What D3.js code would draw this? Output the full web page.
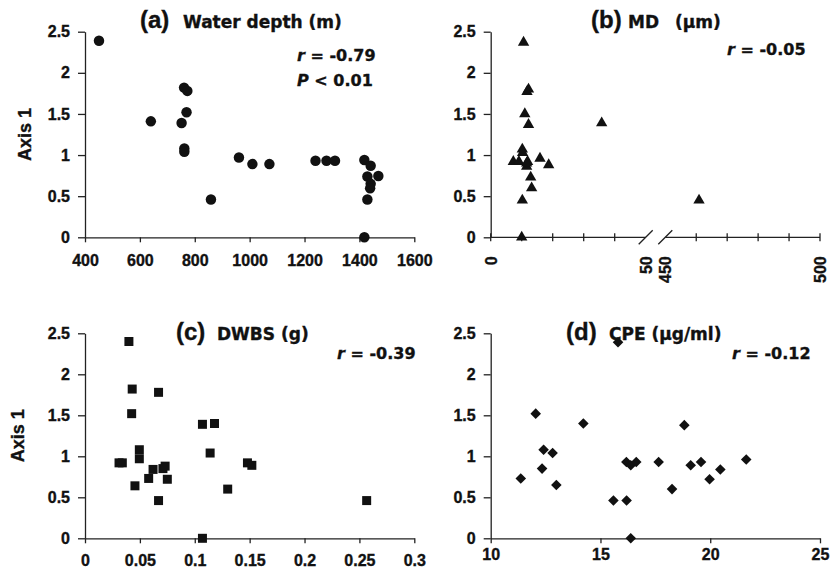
<!DOCTYPE html>
<html>
<head>
<meta charset="utf-8">
<script src="https://cdn.jsdelivr.net/npm/d3@7"></script>
<style>
  body { margin: 0; background: #fff; }
  svg text { font-family: "Liberation Sans", Arial, Helvetica, sans-serif; font-weight: bold; fill: #111;
    stroke: #111; stroke-width: 0.35px; }
</style>
</head>
<body>
<div id="canvas"></div>
<script>
// ---- data ----
const yTicks = [0, 0.5, 1, 1.5, 2, 2.5];

// (a) water depth (m) vs Axis 1
const depthX = [451, 640, 752, 761, 773, 770, 762, 762, 859, 961, 1010, 1072, 1240, 1280, 1311,
  1418, 1441, 1429, 1469, 1441, 1439, 1429, 1418];
const depthY = [2.39, 1.41, 1.39, 1.82, 1.78, 1.52, 1.08, 1.04, 0.46, 0.97, 0.89, 0.89, 0.93, 0.93, 0.93,
  0.94, 0.87, 0.74, 0.745, 0.65, 0.595, 0.46, 0.0];
const depthTicks = [400, 600, 800, 1000, 1200, 1400, 1600];

// (b) MD (um) vs Axis 1, broken x axis
const mdX = [10.6, 12.2, 11.7, 11.0, 12.2, 10.2, 10.3, 7.3, 9.1, 11.9, 11.6, 15.9, 18.7, 12.9, 13.2,
  10.2, 10.0, 11.6, 35.8, 460.9];
const mdY = [2.37, 1.80, 1.77, 1.50, 1.37, 1.07, 1.03, 0.92, 0.92, 0.92, 0.86, 0.96, 0.88, 0.73, 0.60,
  0.45, 0.0, 0.90, 1.39, 0.45];
const mdTicks = [0, 10, 20, 30, 40, 460, 470, 480, 490, 500];
const mdLabels = [0, 50, 450, 500];

// (c) DWBS (g) vs Axis 1
const dwbsX = [0.040, 0.043, 0.067, 0.0425, 0.107, 0.118, 0.0495, 0.0495, 0.114, 0.031, 0.034, 0.062,
  0.071, 0.073, 0.058, 0.075, 0.0455, 0.130, 0.067, 0.148, 0.152, 0.2566, 0.107];
const dwbsY = [2.40, 1.82, 1.78, 1.52, 1.39, 1.40, 1.08, 0.97, 1.04, 0.92, 0.92, 0.84,
  0.85, 0.88, 0.73, 0.72, 0.64, 0.60, 0.46, 0.92, 0.89, 0.46, 0.0];
const dwbsTicks = [0, 0.05, 0.1, 0.15, 0.2, 0.25, 0.3];

// (d) CPE (ug/ml) vs Axis 1
const cpeX = [11.37, 12.05, 12.41, 12.34, 12.82, 12.99, 14.22, 15.59, 15.80, 16.19, 16.18, 16.38,
  16.63, 16.38, 17.65, 18.26, 18.82, 19.11, 19.58, 19.97, 20.46, 21.64];
const cpeY = [0.73, 1.52, 1.08, 0.85, 1.04, 0.65, 1.40, 0.46, 2.39, 0.46, 0.93, 0.89,
  0.93, 0.0, 0.93, 0.60, 1.38, 0.89, 0.93, 0.72, 0.84, 0.96];
const cpeTicks = [10, 15, 20, 25];

const svg = d3.select("#canvas")
  .append("svg")
  .attr("width", 840)
  .attr("height", 574);

const ink = "#111";

function styleAxis(g, size) {
  g.attr("font-family", null).attr("font-size", null);
  g.selectAll("path, line").attr("stroke", "#222").attr("stroke-width", 1.3);
  g.selectAll("text").style("font-size", size + "px").attr("fill", ink);
}

function drawPanel(p) {
  let g = svg.append("g");
  let x = d3.scaleLinear().domain(p.domain).range(p.range);
  let y = d3.scaleLinear().domain([0, 2.5]).range([p.bottom, p.top]);

  // y axis
  g.append("g")
    .attr("transform", "translate(" + p.range[0] + ",0)")
    .call(d3.axisLeft(y).tickValues(yTicks).tickFormat(d => d)
      .tickSize(7).tickPadding(8).tickSizeOuter(0))
    .call(s => styleAxis(s, 16));

  if (p.broken) {
    // x axis with a break between 50 and 450
    let xa = g.append("g");
    p.segments.forEach(seg => {
      xa.append("line")
        .attr("x1", x(seg[0])).attr("x2", x(seg[1]))
        .attr("y1", p.bottom).attr("y2", p.bottom)
        .attr("stroke", "#222").attr("stroke-width", 1.3);
    });
    xa.selectAll(".tk").data(p.ticks).join("line")
      .attr("x1", d => x(d)).attr("x2", d => x(d))
      .attr("y1", p.bottom - 4).attr("y2", p.bottom + 4)
      .attr("stroke", "#222").attr("stroke-width", 1.3);
    xa.selectAll(".brk").data([50, 450]).join("line")
      .attr("x1", d => x(d) - 7).attr("x2", d => x(d) + 7)
      .attr("y1", p.bottom + 7).attr("y2", p.bottom - 7)
      .attr("stroke", "#222").attr("stroke-width", 1.3);
    xa.selectAll("text").data(p.labels).join("text")
      .attr("transform", d => "translate(" + (x(d) + 6) + "," + (p.bottom + 19) + ") rotate(-90)")
      .attr("text-anchor", "end")
      .style("font-size", "16px")
      .text(d => d);
  } else {
    g.append("g")
      .attr("transform", "translate(0," + p.bottom + ")")
      .call(d3.axisBottom(x).tickValues(p.ticks).tickFormat(d => d)
        .tickSize(5).tickPadding(p.pad).tickSizeOuter(0))
      .call(s => styleAxis(s, 16));
  }

  // points
  g.selectAll(".pt")
    .data(d3.zip(p.xs, p.ys))
    .join("path")
    .attr("class", "pt")
    .attr("transform", d => "translate(" + x(d[0]) + "," + y(d[1]) + ")" + (p.rotate ? " rotate(45)" : ""))
    .attr("d", d3.symbol(p.symbol, p.size))
    .attr("fill", ink);

  // title
  let t = g.append("text").attr("y", p.titleY);
  t.append("tspan").attr("x", p.titleX[0]).style("font-size", "24px").text(p.tag);
  p.words.forEach((w, i) => {
    t.append("tspan").attr("x", p.titleX[i + 1])
      .style("font-family", "'DejaVu Sans', sans-serif")
      .style("font-size", "17px").text(w);
  });

  // statistics
  p.stats.forEach((s, i) => {
    let st = g.append("text")
      .attr("x", p.statX)
      .attr("y", p.statY + i * 25)
      .style("font-family", "'DejaVu Sans', sans-serif")
      .style("font-size", "16px");
    st.append("tspan").style("font-style", "italic").text(s[0]);
    st.append("tspan").text(s[1]);
  });

  // y label
  if (p.ylabel) {
    g.append("text")
      .attr("transform", "translate(" + p.ylabelX + "," + ((p.top + p.bottom) / 2) + ") rotate(-90)")
      .attr("text-anchor", "middle")
      .style("font-size", "18px")
      .text("Axis 1");
  }
}

drawPanel({
  domain: [400, 1600], range: [85, 414.3], top: 31.7, bottom: 237.3,
  ticks: depthTicks, pad: 12, xs: depthX, ys: depthY,
  symbol: d3.symbolCircle, size: 86,
  tag: "(a)", words: ["Water depth (m)"], titleX: [140, 183], titleY: 28,
  stats: [["r", " = -0.79"], ["P", " < 0.01"]], statX: 297, statY: 61,
  ylabel: true, ylabelX: 31
});

drawPanel({
  domain: [0, 50, 450, 500], range: [490.7, 645.7, 665.3, 820], top: 31.7, bottom: 237.3,
  broken: true, segments: [[0, 50], [450, 500]], ticks: mdTicks, labels: mdLabels,
  xs: mdX, ys: mdY, symbol: d3.symbolTriangle, size: 56,
  tag: "(b)", words: ["MD", "(\u00b5m)"], titleX: [591, 628, 675], titleY: 28,
  stats: [["r", " = -0.05"]], statX: 727, statY: 55
});

drawPanel({
  domain: [0, 0.3], range: [85, 414.3], top: 333.3, bottom: 538.3,
  ticks: dwbsTicks, pad: 11, xs: dwbsX, ys: dwbsY,
  symbol: d3.symbolSquare, size: 81,
  tag: "(c)", words: ["DWBS (g)"], titleX: [176, 217], titleY: 340,
  stats: [["r", " = -0.39"]], statX: 337, statY: 359,
  ylabel: true, ylabelX: 24
});

drawPanel({
  domain: [10, 25], range: [490.7, 820], top: 333.3, bottom: 538.3,
  ticks: cpeTicks, pad: 5, xs: cpeX, ys: cpeY,
  symbol: d3.symbolSquare, size: 56, rotate: true,
  tag: "(d)", words: ["CPE (\u00b5g/ml)"], titleX: [566, 609], titleY: 340,
  stats: [["r", " = -0.12"]], statX: 732, statY: 359
});
</script>
</body>
</html>
